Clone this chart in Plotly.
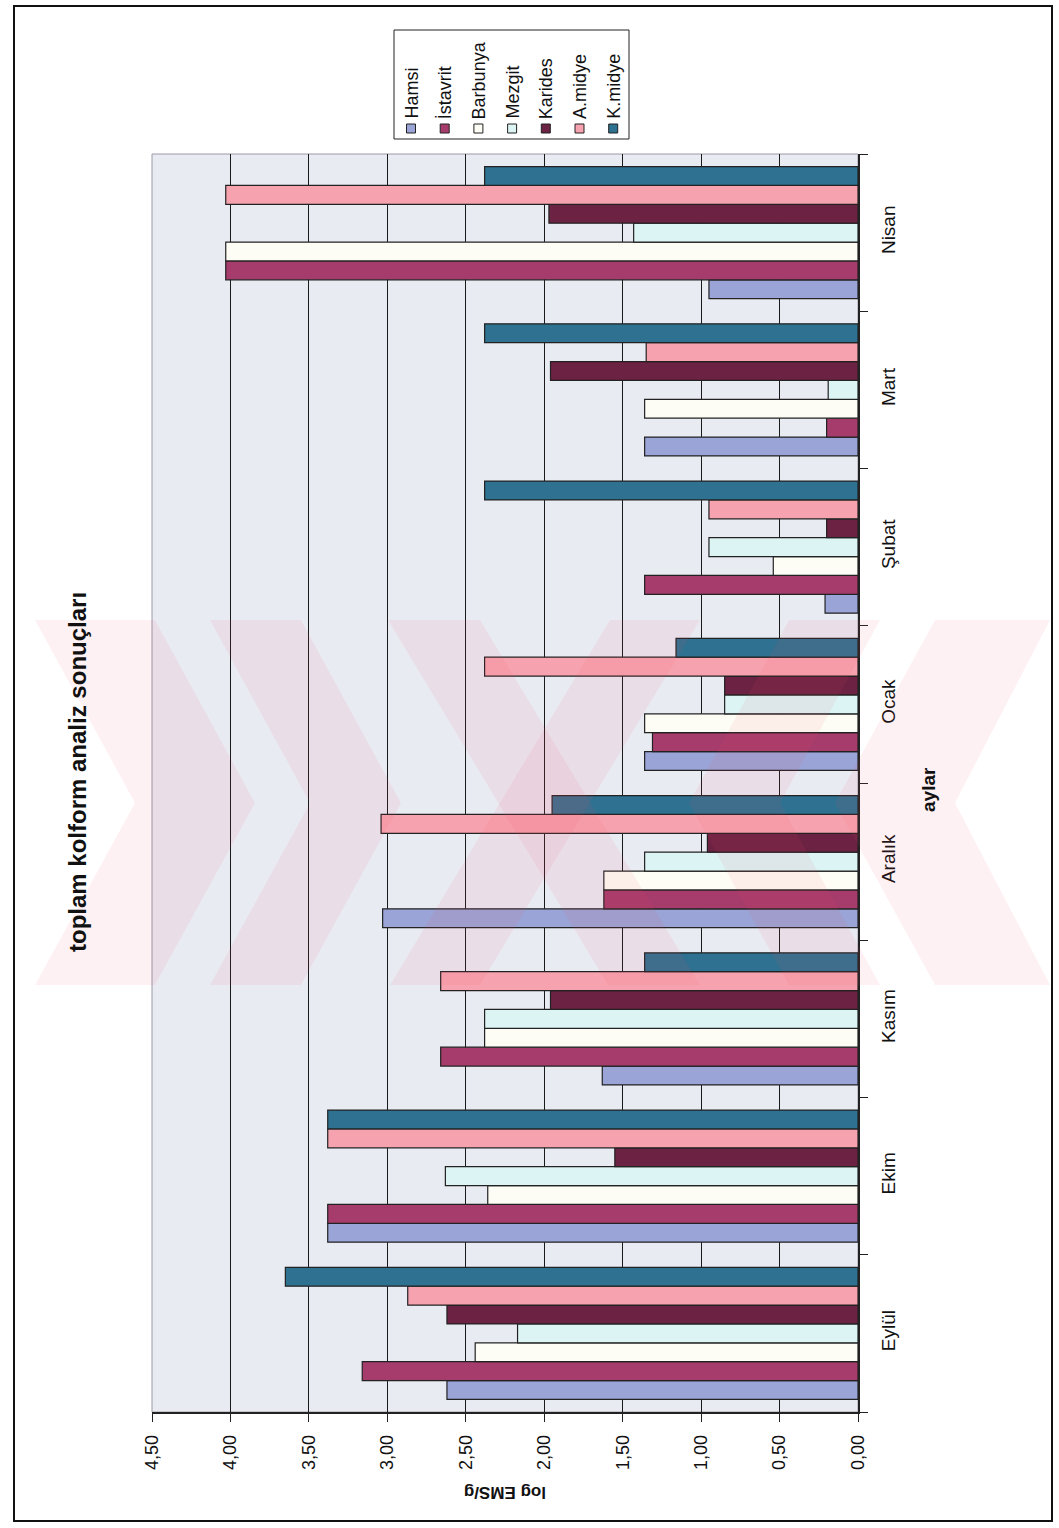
import plotly.graph_objects as go

# Months (category axis) and log EMS/g values per species
months = ["Eylül", "Ekim", "Kasım", "Aralık", "Ocak", "Şubat", "Mart", "Nisan"]
series_names = ["Hamsi", "İstavrit", "Barbunya", "Mezgit", "Karides", "A.midye", "K.midye"]

hamsi = [2.62, 3.38, 1.63, 3.03, 1.36, 0.21, 1.36, 0.95]
istavrit = [3.16, 3.38, 2.66, 1.62, 1.31, 1.36, 0.20, 4.03]
barbunya = [2.44, 2.36, 2.38, 1.62, 1.36, 0.54, 1.36, 4.03]
mezgit = [2.17, 2.63, 2.38, 1.36, 0.85, 0.95, 0.19, 1.43]
karides = [2.62, 1.55, 1.96, 0.96, 0.85, 0.20, 1.96, 1.97]
a_midye = [2.87, 3.38, 2.66, 3.04, 2.38, 0.95, 1.35, 4.03]
k_midye = [3.65, 3.38, 1.36, 1.95, 1.16, 2.38, 2.38, 2.38]

value_ticks = [0, 0.5, 1, 1.5, 2, 2.5, 3, 3.5, 4, 4.5]

series_values = [hamsi, istavrit, barbunya, mezgit, karides, a_midye, k_midye]
colors = ["#9aa4d6", "#a63c6c", "#fdfdf6", "#dcf4f4", "#6c2242", "#f7a3af", "#2f7190"]

W, H = 1059, 1528
L, R, T, B = 152, 858, 154, 1412

FONT = "Liberation Sans Narrow, Arial Narrow, Liberation Sans, Arial, sans-serif"


def px(x):
    return (x - L) / (R - L)


def py(y):
    return (B - y) / (B - T)


def path(points):
    return "M " + " L ".join(f"{px(x):.5f},{py(y):.5f}" for x, y in points) + " Z"


fig = go.Figure()
for name, vals, col in zip(series_names, series_values, colors):
    fig.add_trace(go.Bar(
        y=months, x=vals, name=name, orientation="h",
        marker=dict(color=col, line=dict(color="#222222", width=1.2)),
        showlegend=False,
    ))

shapes = []
annotations = []

# outer page frame
shapes.append(dict(type="rect", xref="paper", yref="paper",
                   x0=px(14), x1=px(1052), y0=py(6), y1=py(1521),
                   line=dict(color="#111111", width=2), layer="below"))

# plot-area border
shapes.append(dict(type="rect", xref="paper", yref="paper",
                   x0=0, x1=1, y0=0, y1=1,
                   line=dict(color="#9a9aa6", width=1), layer="below"))

# faint pink stamp across the middle of the page: chevrons and a cross
y_top, y_mid, y_bot = 620, 803, 985
run = 100
stamp = []
for a, w in [(35, 120), (210, 91)]:
    # ">" on the left and its mirror "<" on the right
    stamp.append([(a, y_top), (a + w, y_top), (a + w + run, y_mid),
                  (a + w, y_bot), (a, y_bot), (a + run, y_mid)])
    ma, mw = 1090 - a, w
    stamp.append([(ma, y_top), (ma - mw, y_top), (ma - mw - run, y_mid),
                  (ma - mw, y_bot), (ma, y_bot), (ma - run, y_mid)])
# centre cross
stamp.append([(388, y_top), (480, y_top), (700, y_bot), (608, y_bot)])
stamp.append([(610, y_top), (700, y_top), (480, y_bot), (390, y_bot)])
for pts in stamp:
    pts = [(min(max(x, 16), 1050), y) for x, y in pts]
    shapes.append(dict(type="path", xref="paper", yref="paper", path=path(pts),
                       fillcolor="#ee4a62", opacity=0.08, line=dict(width=0),
                       layer="above"))

# legend box, entries drawn rotated
lx0, lx1, ly0, ly1 = 394, 629, 30, 139
shapes.append(dict(type="rect", xref="paper", yref="paper",
                   x0=px(lx0), x1=px(lx1), y0=py(ly1), y1=py(ly0),
                   fillcolor="white", line=dict(color="#222222", width=1)))
for i, (name, col) in enumerate(zip(series_names, colors)):
    cx = 411 + 33.7 * i
    shapes.append(dict(type="rect", xref="paper", yref="paper",
                       x0=px(cx - 4.5), x1=px(cx + 4.5), y0=py(133), y1=py(124),
                       fillcolor=col, line=dict(color="#222222", width=1)))
    annotations.append(dict(x=px(cx + 1), y=py(121), xref="paper", yref="paper",
                            text=name, showarrow=False, textangle=-90,
                            xanchor="center", yanchor="bottom",
                            font=dict(family=FONT, size=18, color="#111111")))

# chart title and axis titles
annotations.append(dict(x=px(77), y=py(772), xref="paper", yref="paper",
                        text="<b>toplam kolform analiz sonuçları</b>", showarrow=False,
                        textangle=-90, xanchor="center", yanchor="middle",
                        font=dict(family=FONT, size=24, color="#111111")))
annotations.append(dict(x=px(928), y=py(790), xref="paper", yref="paper",
                        text="<b>aylar</b>", showarrow=False,
                        textangle=-90, xanchor="center", yanchor="middle",
                        font=dict(family=FONT, size=19, color="#111111")))
annotations.append(dict(x=px(505), y=py(1493), xref="paper", yref="paper",
                        text="<b>log EMS/g</b>", showarrow=False,
                        textangle=180, xanchor="center", yanchor="middle",
                        font=dict(family=FONT, size=17, color="#111111")))

fig.update_layout(
    width=W, height=H,
    margin=dict(l=L, r=W - R, t=T, b=H - B, autoexpand=False),
    paper_bgcolor="white",
    plot_bgcolor="#e9ebf3",
    barmode="group",
    bargap=0.16,
    bargroupgap=0,
    separators=",.",
    shapes=shapes,
    annotations=annotations,
    font=dict(family=FONT, size=16, color="#111111"),
)

fig.update_xaxes(
    range=[4.5, 0], tickvals=value_ticks, tickformat=".2f",
    tickangle=-90, ticks="outside", ticklen=8, tickcolor="#222222",
    showgrid=True, gridcolor="#1a1a1a", gridwidth=1.2,
    showline=True, linecolor="#222222", linewidth=1.5,
    zeroline=False, ticklabelstandoff=6,
    tickfont=dict(family=FONT, size=18, color="#111111"),
)
fig.update_yaxes(
    categoryorder="array", categoryarray=months,
    side="right", tickangle=-90, ticks="outside", ticklen=8,
    tickson="boundaries", tickcolor="#222222",
    showline=True, linecolor="#222222", linewidth=1.5,
    showgrid=False, ticklabelstandoff=12,
    tickfont=dict(family=FONT, size=19, color="#111111"),
)

fig.write_html("out.html")
